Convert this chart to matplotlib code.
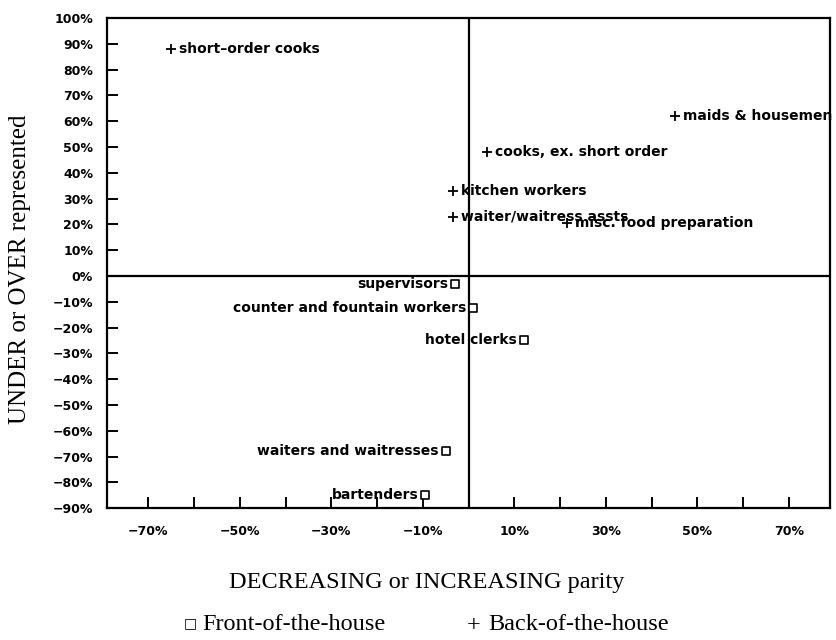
import matplotlib
matplotlib.use("Agg")
import matplotlib.pyplot as plt

# Back-of-the-house occupations (parity change %, representation %)
back_names = ["short\u2013order cooks", "maids & housemen", "cooks, ex. short order",
              "kitchen workers", "waiter/waitress assts", "misc. food preparation"]
back_x = [-65, 45, 4, -3.5, -3.5, 21.5]
back_y = [88, 62, 48, 33, 23, 20.5]

# Front-of-the-house occupations
front_names = ["supervisors", "counter and fountain workers", "hotel clerks",
               "waiters and waitresses", "bartenders"]
front_x = [-3, 1, 12, -5, -9.5]
front_y = [-3, -12.5, -25, -68, -85]

y_ticks = list(range(-90, 101, 10))
x_ticks = list(range(-70, 71, 10))
x_labeled = [-70, -50, -30, -10, 10, 30, 50, 70]

fig = plt.figure(figsize=(8.36, 6.4), dpi=100)
ax = fig.add_axes([0.128, 0.206, 0.865, 0.766])
ax.set_xlim(-79, 79)
ax.set_ylim(-90, 100)

for s in ax.spines.values():
    s.set_linewidth(1.6)

ax.axhline(0, color='black', lw=1.6)
ax.axvline(0, color='black', lw=1.6)

tickfont = dict(family='DejaVu Sans', weight='bold', size=9)
ax.set_yticks(y_ticks)
ax.set_yticklabels([f"{v}%".replace('-', '\u2212') for v in y_ticks], **tickfont)
ax.set_xticks(x_ticks)
ax.set_xticklabels([(f"{v}%".replace('-', '\u2212') if v in x_labeled else "") for v in x_ticks], **tickfont)
ax.tick_params(axis='both', direction='in', length=8, width=1.4)
ax.tick_params(axis='y', pad=10)
ax.tick_params(axis='x', pad=12)

lblfont = dict(family='DejaVu Sans', weight='bold', size=10)

ax.scatter(back_x, back_y, marker='+', s=45, color='black', linewidths=1.3, zorder=3)
for n, x, y in zip(back_names, back_x, back_y):
    t = ax.annotate(n, (x, y), xytext=(6, 0), textcoords='offset points',
                    ha='left', va='center', **lblfont)
    t.set_clip_on(True)

ax.scatter(front_x, front_y, marker='s', s=28, facecolors='white', edgecolors='black',
           linewidths=1.2, zorder=3)
for n, x, y in zip(front_names, front_x, front_y):
    ax.annotate(n, (x, y), xytext=(-5, 0), textcoords='offset points',
                ha='right', va='center', **lblfont)

serif = 'Liberation Serif'
fig.text(0.024, 0.58, "UNDER or OVER represented", rotation=90, ha='center', va='center',
         family=serif, size=18)
fig.text(0.510, 0.090, "DECREASING or INCREASING parity", ha='center', va='center',
         family=serif, size=17.5)
base_y = 0.016
fig.text(0.228, base_y + 0.004, "\u25a1", ha='center', va='baseline', family='DejaVu Sans', size=10)
fig.text(0.242, base_y, "Front-of-the-house", ha='left', va='baseline', family=serif, size=17.5)
fig.text(0.567, base_y - 0.002, "+", ha='center', va='baseline', family=serif, size=17.5)
fig.text(0.584, base_y, "Back-of-the-house", ha='left', va='baseline', family=serif, size=17.5)

fig.savefig("out.png", dpi=100)
